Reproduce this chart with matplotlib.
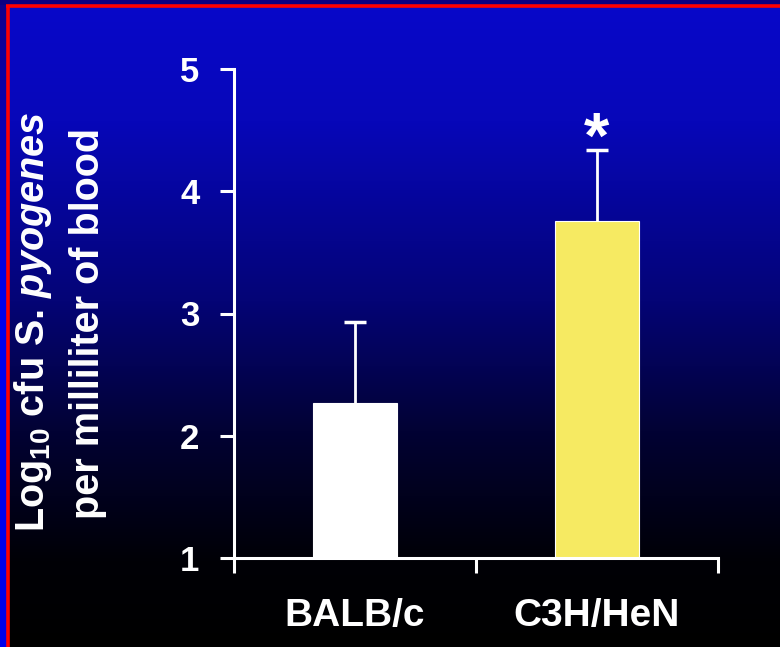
import numpy as np
import matplotlib
matplotlib.use("Agg")
import matplotlib.pyplot as plt

# data
STRAINS = ["BALB/c", "C3H/HeN"]
LOG_CFU = [2.27, 3.76]          # mean log10 cfu / ml blood
ERR_UP = [0.66, 0.58]           # upper error bar length
BAR_COLORS = ["white", "#f6ea62"]
Y_TICKS = [1, 2, 3, 4, 5]
Y_MIN, Y_MAX = 1, 5
SIG = [False, True]             # asterisk above bar

plt.rcParams["font.family"] = ["Liberation Sans", "DejaVu Sans"]
plt.rcParams["font.weight"] = "bold"
plt.rcParams["mathtext.fontset"] = "custom"
plt.rcParams["mathtext.rm"] = "Liberation Sans:bold"
plt.rcParams["mathtext.it"] = "Liberation Sans:italic:bold"
plt.rcParams["mathtext.bf"] = "Liberation Sans:bold"

W, H = 780, 647
fig = plt.figure(figsize=(W / 100, H / 100), dpi=100)

# ---- slide background: blue -> black gradient, red frame ----
bg = fig.add_axes([0, 0, 1, 1], zorder=-10)
bg.axis("off")
rows = np.arange(H)
stops = [0, 120, 300, 430, 560, H]
blue = np.interp(rows, stops, [202, 185, 118, 52, 6, 0])
rg = np.interp(rows, stops, [8, 7, 4, 2, 0, 0])
img = np.zeros((H, W, 3))
img[:, :, 0] = rg[:, None]
img[:, :, 1] = rg[:, None]
img[:, :, 2] = blue[:, None]
img[:, :7, 0] = np.interp(rows, [0, 300], [16, 0])[:, None]
img[:, :7, 1] = 0
img[:, :7, 2] = np.interp(rows, [0, 300], [138, 235])[:, None]
img[:5, :, :] = [10, 0, 130]
bg.imshow(img / 255, aspect="auto", extent=(0, W, H, 0), interpolation="nearest")
bg.plot([7.5, 7.5], [5, H], color="#ff0000", lw=2.6, solid_capstyle="butt")
bg.plot([6, W], [6, 6], color="#ff0000", lw=2.6, solid_capstyle="butt")
bg.set_xlim(0, W)
bg.set_ylim(H, 0)

# ---- bar chart ----
ax = fig.add_axes([234 / W, 1 - 558 / H, (718 - 234) / W, (558 - 69) / H])
ax.patch.set_alpha(0)
x = np.arange(len(STRAINS))
eb = ax.errorbar(x, LOG_CFU, yerr=[np.zeros(len(x)), ERR_UP], fmt="none",
                 ecolor="white", elinewidth=2.0, capsize=8, capthick=2.5, zorder=1)
eb[1][0].set_visible(False)     # no cap on the bar top
ax.bar(x, np.array(LOG_CFU) - Y_MIN, bottom=Y_MIN, width=0.345,
       color=BAR_COLORS, edgecolor="white", linewidth=0.8, zorder=2)
for xi, v, e, s in zip(x, LOG_CFU, ERR_UP, SIG):
    if s:
        ax.text(xi, v + e - 0.07, "*", ha="center", va="baseline", color="white",
                fontsize=47, fontweight="bold")

ax.set_xlim(-0.5, 1.5)
ax.set_ylim(Y_MIN, Y_MAX)
ax.set_yticks(Y_TICKS)
ax.set_xticks(x, STRAINS)
ax.set_xticks([-0.5, 0.5, 1.5], minor=True)
for sp in ("top", "right"):
    ax.spines[sp].set_visible(False)
for sp in ("left", "bottom"):
    ax.spines[sp].set_color("white")
    ax.spines[sp].set_linewidth(2.2)
ax.tick_params(axis="y", direction="out", length=10, width=2.2, colors="white",
               labelsize=25, pad=15)
ax.tick_params(axis="x", which="major", length=0, colors="white",
               labelsize=28, pad=29)
ax.tick_params(axis="x", which="minor", direction="out", length=11, width=2.2,
               color="white")

fig.text(33 / W, 1 - 322 / H, r"Log$_{10}$ cfu S. $\mathit{pyogenes}$",
         rotation=90, ha="center", va="center", color="white", fontsize=28.5,
         fontweight="bold")
fig.text(88 / W, 1 - 323 / H, "per milliliter of blood",
         rotation=90, ha="center", va="center", color="white", fontsize=28.5,
         fontweight="bold")

fig.savefig("out.png", dpi=100)
